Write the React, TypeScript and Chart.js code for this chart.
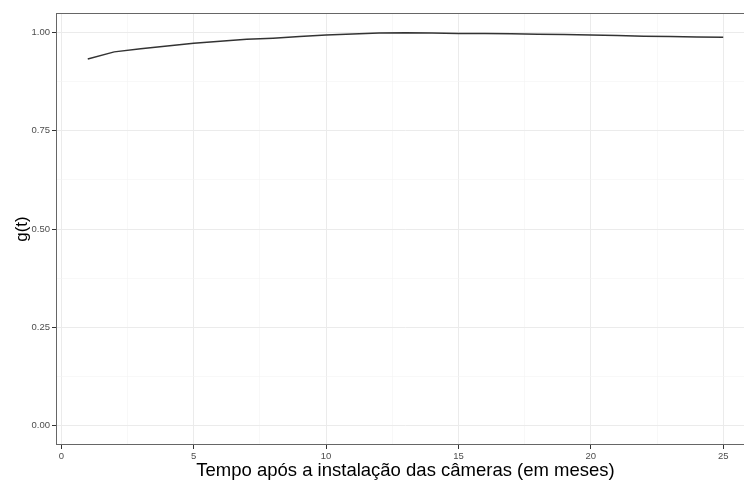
import React, { useEffect, useRef } from "react";
import { Chart, registerables } from "chart.js";

Chart.register(...registerables);

const months = [1, 2, 3, 4, 5, 6, 7, 8, 9, 10, 11, 12, 13, 14, 15, 16, 17, 18, 19, 20, 21, 22, 23, 24, 25];
const gValues = [0.933, 0.951, 0.959, 0.966, 0.973, 0.978, 0.983, 0.986, 0.990, 0.994, 0.9966, 0.999, 1.0, 0.999, 0.998, 0.998, 0.997, 0.996, 0.995, 0.994, 0.993, 0.991, 0.990, 0.989, 0.988];
const xTicks = [0, 2.5, 5, 7.5, 10, 12.5, 15, 17.5, 20, 22.5, 25];
const yTicks = [0, 0.125, 0.25, 0.375, 0.5, 0.625, 0.75, 0.875, 1.0];
const xTitle = "Tempo após a instalação das câmeras (em meses)";
const yTitle = "g(t)";

const isMajorX = (v: number) => Math.abs(v % 5) < 1e-9;
const isMajorY = (v: number) => Math.abs((v * 4) % 1) < 1e-9;

export default function App() {
  const ref = useRef<HTMLCanvasElement>(null);
  useEffect(() => {
    if (!ref.current) return;
    const borderPlugin = {
      id: "panelBorder",
      afterDraw(chart: any) {
        const { ctx, chartArea } = chart;
        ctx.save();
        ctx.strokeStyle = "#666666";
        ctx.lineWidth = 1;
        ctx.strokeRect(
          Math.round(chartArea.left) + 0.5,
          Math.round(chartArea.top) + 0.5,
          Math.round(chartArea.right - chartArea.left) - 1,
          Math.round(chartArea.bottom - chartArea.top) - 1
        );
        ctx.restore();
      },
    };
    const chart = new Chart(ref.current, {
      type: "line",
      data: {
        datasets: [
          {
            data: months.map((m, i) => ({ x: m, y: gValues[i] })),
            borderColor: "#333333",
            borderWidth: 1.5,
            pointRadius: 0,
            fill: false,
            tension: 0,
          },
        ],
      },
      plugins: [borderPlugin],
      options: {
        animation: false,
        responsive: false,
        devicePixelRatio: 1,
        layout: { padding: { top: 13, right: 1, left: 0, bottom: 0 } },
        plugins: { legend: { display: false }, tooltip: { enabled: false } },
        scales: {
          x: {
            type: "linear",
            min: -0.2,
            max: 26.2,
            afterFit: (s: any) => {
              s.height = 37;
            },
            afterBuildTicks: (s: any) => {
              s.ticks = xTicks.map((v) => ({ value: v }));
            },
            border: { display: false },
            grid: {
              color: (c: any) => (isMajorX(c.tick.value) ? "#ebebeb" : "#f4f4f4"),
              lineWidth: (c: any) => (isMajorX(c.tick.value) ? 1 : 0.6),
              tickColor: (c: any) => (isMajorX(c.tick.value) ? "#333333" : "rgba(0,0,0,0)"),
              tickLength: 4,
            },
            ticks: {
              autoSkip: false,
              maxRotation: 0,
              padding: 2,
              color: "#4d4d4d",
              font: { family: "Liberation Sans, Arial, sans-serif", size: 9.5 },
              callback: (v: any) => (isMajorX(Number(v)) ? String(v) : ""),
            },
            title: {
              display: true,
              text: xTitle,
              color: "#000000",
              font: { family: "Liberation Sans, Arial, sans-serif", size: 18.5 },
              padding: { top: 0, bottom: 0 },
            },
          },
          y: {
            type: "linear",
            min: -0.05,
            max: 1.05,
            afterFit: (s: any) => {
              s.width = 56;
            },
            afterBuildTicks: (s: any) => {
              s.ticks = yTicks.map((v) => ({ value: v }));
            },
            border: { display: false },
            grid: {
              color: (c: any) => (isMajorY(c.tick.value) ? "#ebebeb" : "#f4f4f4"),
              lineWidth: (c: any) => (isMajorY(c.tick.value) ? 1 : 0.6),
              tickColor: (c: any) => (isMajorY(c.tick.value) ? "#333333" : "rgba(0,0,0,0)"),
              tickLength: 4,
            },
            ticks: {
              autoSkip: false,
              padding: 2,
              color: "#4d4d4d",
              font: { family: "Liberation Sans, Arial, sans-serif", size: 9.5 },
              callback: (v: any) => (isMajorY(Number(v)) ? Number(v).toFixed(2) : ""),
            },
            title: {
              display: true,
              text: yTitle,
              color: "#000000",
              font: { family: "Liberation Sans, Arial, sans-serif", size: 17 },
              padding: { top: 12, bottom: 0 },
            },
          },
        },
      },
    });
    return () => chart.destroy();
  }, []);
  return (
    <div style={{ position: "absolute", left: 0, top: 0, width: 744, height: 482, overflow: "hidden", background: "#fff" }}>
      <canvas ref={ref} width={756} height={482} style={{ display: "block" }} />
    </div>
  );
}
